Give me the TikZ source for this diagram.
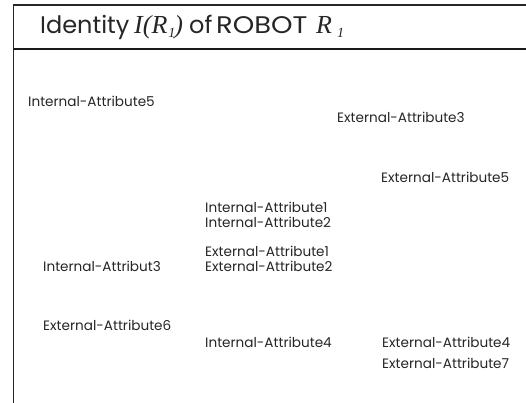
\documentclass[tikz,border=0pt]{standalone}
\usepackage{fontspec}
\setmainfont{Poppins}
\newfontfamily\titleit{Liberation Serif}[ItalicFont=* Italic]
\newcommand{\subone}{\raisebox{-3.5pt}{\fontsize{14}{15}\selectfont 1}}
\begin{document}
\begin{tikzpicture}[x=1pt,y=-1pt,
  attr/.style={anchor=west,inner sep=0pt,font=\fontsize{13.6}{15}\selectfont,text=black!85},
  ttl/.style={anchor=base west,inner sep=0pt,font=\fontsize{24}{28}\selectfont,text=black!85},
  ttlit/.style={anchor=base west,inner sep=0pt,font=\titleit\itshape\fontsize{26}{28}\selectfont,text=black!85},
  frame/.style={draw=black!85,line width=1.3pt}]
\useasboundingbox (0,0) rectangle (526,403);
\fill[white] (0,0) rectangle (526,403);
\coordinate (tl) at (13.5,5);
\coordinate (tr) at (526,5);
\coordinate (bl) at (13.5,403);
\coordinate (hl) at (13.5,49);
\coordinate (hr) at (526,49);
\draw[frame] (tr) -- (tl) -- (bl);
\draw[draw=black!90,line width=2pt] (hl) -- (hr);
\node[ttl] (t1) at (40,34) {Identity};
\node[ttlit] (t2) at (134,34) {I(R\hspace{1pt}\subone\hspace{-1pt})};
\node[ttl] (t3) at (189,34) {of};
\node[ttl] (t3b) at (216,34) {\scalebox{1.14}[1]{ROBOT}};
\node[ttlit] (t4) at (316,34) {R\hspace{5pt}\subone};
\node[attr] (i5) at (28,101) {Internal-Attribute5};
\node[attr] (e3) at (337,117) {External-Attribute3};
\node[attr] (e5) at (381,177) {External-Attribute5};
\node[attr] (i1) at (205,207) {Internal-Attribute1};
\node[attr] (i2) at (205,222) {Internal-Attribute2};
\node[attr] (e1) at (205,251) {External-Attribute1};
\node[attr] (e2) at (205,266) {External-Attribute2};
\node[attr] (i3) at (43,266) {Internal-Attribut3};
\node[attr] (e6) at (43,325) {External-Attribute6};
\node[attr] (i4) at (205,342) {Internal-Attribute4};
\node[attr] (e4) at (382,342) {External-Attribute4};
\node[attr] (e7) at (382,363) {External-Attribute7};
\end{tikzpicture}
\end{document}
